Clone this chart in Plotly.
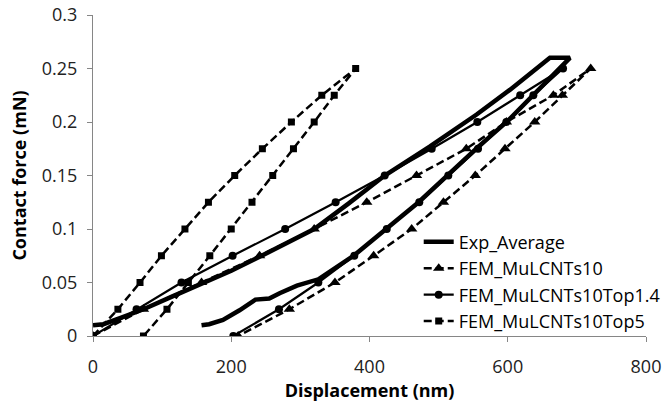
import plotly.graph_objects as go

# ---------------- data ----------------
exp_x = [0, 15, 40, 73, 115, 157, 200, 241, 280, 320, 370, 422, 487, 555, 603, 661, 690,
         640, 600, 556, 513, 471, 424, 377, 326, 295, 270, 255, 235, 212, 188, 168, 157]
exp_y = [0.010, 0.011, 0.017, 0.025, 0.037, 0.049, 0.061, 0.074, 0.087, 0.100, 0.124, 0.150,
         0.177, 0.207, 0.230, 0.260, 0.260,
         0.227, 0.201, 0.176, 0.150, 0.125, 0.100, 0.075, 0.053, 0.047, 0.040, 0.035, 0.034,
         0.024, 0.015, 0.011, 0.010]

fem10_x = [0, 73, 157, 241, 320, 396, 468, 540, 598, 666, 720,
           679, 639, 596, 553, 507, 461, 406, 350, 284, 210]
fem10_y = [0, 0.025, 0.05, 0.075, 0.1, 0.125, 0.15, 0.175, 0.2, 0.225, 0.25,
           0.225, 0.2, 0.175, 0.15, 0.125, 0.1, 0.075, 0.05, 0.025, 0]

top14_x = [0, 63, 128, 202, 278, 351, 422, 490, 556, 618, 680,
           637, 598, 557, 514, 472, 425, 378, 326, 269, 203]
top14_y = [0, 0.025, 0.05, 0.075, 0.1, 0.125, 0.15, 0.175, 0.2, 0.225, 0.25,
           0.225, 0.2, 0.175, 0.15, 0.125, 0.1, 0.075, 0.05, 0.025, 0]

top5_x = [0, 36, 68, 99, 133, 167, 205, 245, 287, 331, 380,
          349, 320, 290, 260, 230, 200, 169, 138, 107, 73]
top5_y = [0, 0.025, 0.05, 0.075, 0.1, 0.125, 0.15, 0.175, 0.2, 0.225, 0.25,
          0.225, 0.2, 0.175, 0.15, 0.125, 0.1, 0.075, 0.05, 0.025, 0]

x_ticks = [0, 200, 400, 600, 800]
y_ticks = [0, 0.05, 0.1, 0.15, 0.2, 0.25, 0.3]

FONT = "Open Sans"
DASH = "8px,4px"

fig = go.Figure()
fig.add_trace(go.Scatter(x=exp_x, y=exp_y, mode="lines", name="Exp_Average",
                         line=dict(color="black", width=4.5)))
fig.add_trace(go.Scatter(x=fem10_x, y=fem10_y, mode="lines+markers", name="FEM_MuLCNTs10",
                         line=dict(color="black", width=2.5, dash=DASH),
                         marker=dict(symbol="triangle-up", size=10, color="black")))
fig.add_trace(go.Scatter(x=top14_x, y=top14_y, mode="lines+markers", name="FEM_MuLCNTs10Top1.4",
                         line=dict(color="black", width=2.2),
                         marker=dict(symbol="circle", size=8, color="black")))
fig.add_trace(go.Scatter(x=top5_x, y=top5_y, mode="lines+markers", name="FEM_MuLCNTs10Top5",
                         line=dict(color="black", width=2.5, dash=DASH),
                         marker=dict(symbol="square", size=7, color="black")))

axis_common = dict(showgrid=False, zeroline=False, showline=True, linecolor="#868686",
                   linewidth=1, ticks="outside", ticklen=5, tickcolor="#868686",
                   automargin=False,
                   tickfont=dict(family=FONT, size=18, color="#222"))

fig.update_layout(
    width=663, height=408,
    margin=dict(l=93, r=17, t=15, b=72, autoexpand=False),
    paper_bgcolor="white", plot_bgcolor="white",
    font=dict(family=FONT, color="black"),
    xaxis=dict(range=[0, 800], tickvals=x_ticks, ticktext=[str(v) for v in x_ticks],
               ticklabelstandoff=9,
               title=dict(text="<b>Displacement (nm)</b>", font=dict(family=FONT, size=18), standoff=4),
               **axis_common),
    yaxis=dict(range=[0, 0.3], tickvals=y_ticks, ticktext=[f"{v:g}" for v in y_ticks],
               ticklabelstandoff=6,
               title=dict(text="<b>Contact force (mN)</b>", font=dict(family=FONT, size=18), standoff=10),
               **axis_common),
    legend=dict(x=0.589, y=0.35, xanchor="left", yanchor="top", bgcolor="rgba(0,0,0,0)",
                font=dict(family=FONT, size=18, color="black"), tracegroupgap=0),
    showlegend=True,
)

fig.write_html("out.html", config={"displayModeBar": False},
               post_script="document.body.style.margin='0';")
